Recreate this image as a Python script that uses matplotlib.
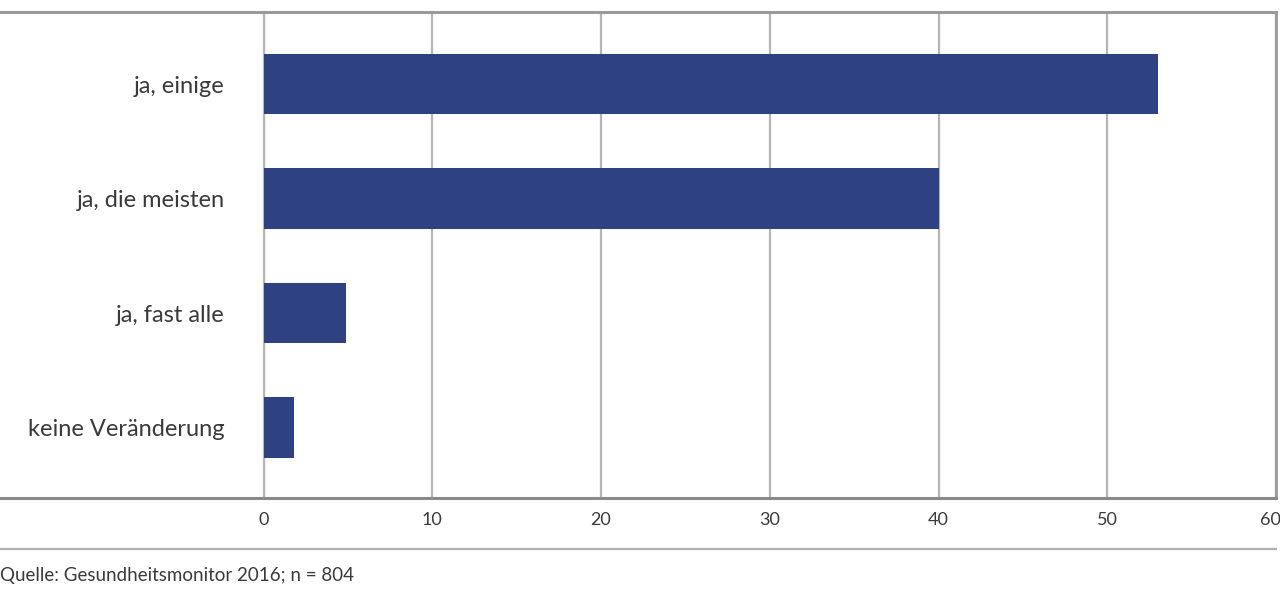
import matplotlib
matplotlib.use("Agg")
import matplotlib.pyplot as plt
from matplotlib.lines import Line2D
from matplotlib.transforms import ScaledTranslation

categories = ["ja, einige", "ja, die meisten", "ja, fast alle", "keine Veränderung"]
values = [53.0, 40.0, 4.9, 1.8]
xticks = [0, 10, 20, 30, 40, 50, 60]
source = "Quelle: Gesundheitsmonitor 2016; n = 804"

W, H = 1280, 590
fig = plt.figure(figsize=(W / 100, H / 100), dpi=100)
left, right = 263.5 / W, 1276 / W
top, bottom = 1 - 12 / H, 1 - 498 / H
ax = fig.add_axes([left, bottom, right - left, top - bottom])

font = ["Lato", "DejaVu Sans"]
text_color = "#3a3a3a"
frame_color = "#9a9a9a"
grid_color = "#b5b5b5"

y = list(range(len(categories)))
ax.barh(y, values, height=0.53, color="#2E4283", zorder=3)
ax.set_xlim(0, 60)
ax.set_ylim(3.616, -0.63)
ax.set_xticks(xticks)
ax.set_xticklabels([str(t) for t in xticks], fontfamily=font, fontsize=13, color=text_color)
ax.set_yticks(y)
ax.set_yticklabels(categories, fontfamily=font, fontsize=17, color=text_color)
ax.tick_params(axis="x", length=0, pad=10)
ax.tick_params(axis="y", length=0, pad=28)
ax.grid(axis="x", color=grid_color, linewidth=1.6, zorder=1)
ax.set_axisbelow(True)
for s in ["top", "bottom"]:
    ax.spines[s].set_visible(False)
ax.spines["left"].set_color(grid_color)
ax.spines["left"].set_linewidth(1.6)
ax.spines["right"].set_color(frame_color)
ax.spines["right"].set_linewidth(2)

# keep the last tick label inside the picture
last = ax.get_xticklabels()[-1]
last.set_transform(last.get_transform() + ScaledTranslation(-6 / 100, 0, fig.dpi_scale_trans))

# frame lines extending to the left edge
fig.add_artist(Line2D([0, right], [top, top], transform=fig.transFigure, color=frame_color, linewidth=2.2))
fig.add_artist(Line2D([0, right], [bottom, bottom], transform=fig.transFigure, color="#8a8a8a", linewidth=2.2))
fig.add_artist(Line2D([0, right], [1 - 549 / H, 1 - 549 / H], transform=fig.transFigure, color="#b0b0b0", linewidth=1.6))

fig.text(0.0, 1 - 575 / H, source, fontfamily=font, fontsize=13.5, color=text_color, ha="left", va="center")

fig.savefig("out.png", dpi=100)
